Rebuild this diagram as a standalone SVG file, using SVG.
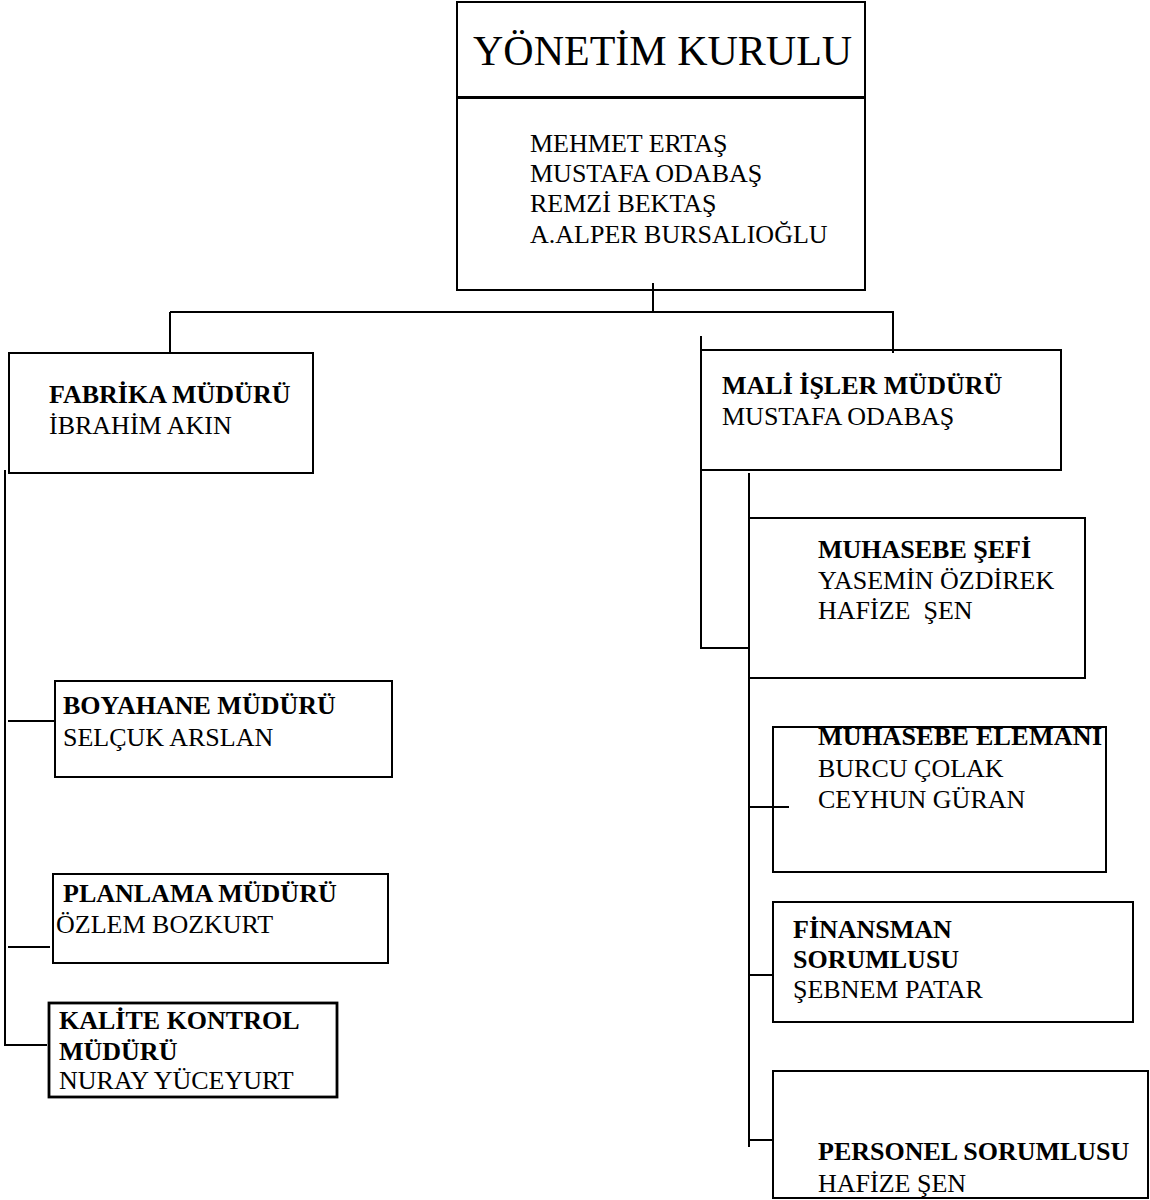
<svg xmlns="http://www.w3.org/2000/svg" width="1150" height="1200" viewBox="0 0 1150 1200">
<style>
  .box { fill: none; stroke: #000; stroke-width: 2; }
  .thick { stroke-width: 2.8; }
  .ln { fill: none; stroke: #000; stroke-width: 2; }
  text { font-family: "Liberation Serif", "Times New Roman", serif; font-size: 26px; fill: #000; }
  .b { font-weight: bold; }
  .title { font-size: 42px; }
</style>
<rect width="1150" height="1200" fill="#fff"/>
<g id="connectors">
  <path class="ln" d="M653,283 V312 M170,312 H893 V353 M170,312 V353"/>
  <path class="ln" d="M701,336 V648 H749"/>
  <path class="ln" d="M749,473 V1147"/>
  <path class="ln" d="M749,807 H789 M749,975 H773 M749,1140 H773"/>
  <path class="ln" d="M5,470 V1045 H47"/>
  <path class="ln" d="M8,721 H55 M8,947 H50"/>
</g>
<g id="yonetim-kurulu">
  <rect class="box" x="457" y="2" width="408" height="288"/>
  <line x1="457" y1="97.5" x2="865" y2="97.5" stroke="#000" stroke-width="3"/>
  <text class="title" x="473" y="65">YÖNETİM KURULU</text>
  <text x="530" y="152">MEHMET ERTAŞ</text>
  <text x="530" y="182">MUSTAFA ODABAŞ</text>
  <text x="530" y="212">REMZİ BEKTAŞ</text>
  <text x="530" y="243">A.ALPER BURSALIOĞLU</text>
</g>
<g id="fabrika-muduru">
  <rect class="box" x="9" y="353" width="304" height="120"/>
  <text class="b" x="49" y="403">FABRİKA MÜDÜRÜ</text>
  <text x="49" y="434">İBRAHİM AKIN</text>
</g>
<g id="mali-isler-muduru">
  <rect class="box" x="701" y="350" width="360" height="120"/>
  <text class="b" x="722" y="394">MALİ İŞLER MÜDÜRÜ</text>
  <text x="722" y="425">MUSTAFA ODABAŞ</text>
</g>
<g id="boyahane-muduru">
  <rect class="box" x="55" y="681" width="337" height="96"/>
  <text class="b" x="63" y="714">BOYAHANE MÜDÜRÜ</text>
  <text x="63" y="746">SELÇUK ARSLAN</text>
</g>
<g id="planlama-muduru">
  <rect class="box" x="53" y="874" width="335" height="89"/>
  <text class="b" x="63" y="902">PLANLAMA MÜDÜRÜ</text>
  <text x="56" y="933">ÖZLEM BOZKURT</text>
</g>
<g id="kalite-kontrol-muduru">
  <rect class="box thick" x="49" y="1003" width="288" height="94"/>
  <text class="b" x="59" y="1029">KALİTE KONTROL</text>
  <text class="b" x="59" y="1060">MÜDÜRÜ</text>
  <text x="59" y="1089">NURAY YÜCEYURT</text>
</g>
<g id="muhasebe-sefi">
  <rect class="box" x="749" y="518" width="336" height="160"/>
  <text class="b" x="818" y="558">MUHASEBE ŞEFİ</text>
  <text x="818" y="589">YASEMİN ÖZDİREK</text>
  <text x="818" y="619" xml:space="preserve">HAFİZE  ŞEN</text>
</g>
<g id="muhasebe-elemani">
  <text class="b" x="818" y="745" textLength="284">MUHASEBE ELEMANI</text>
  <rect x="770" y="720" width="340" height="8" fill="#fff"/>
  <rect class="box" x="773" y="727" width="333" height="145"/>
  <text x="818" y="777">BURCU ÇOLAK</text>
  <text x="818" y="808">CEYHUN GÜRAN</text>
</g>
<g id="finansman-sorumlusu">
  <rect class="box" x="773" y="902" width="360" height="120"/>
  <text class="b" x="793" y="938">FİNANSMAN</text>
  <text class="b" x="793" y="968">SORUMLUSU</text>
  <text x="793" y="998">ŞEBNEM PATAR</text>
</g>
<g id="personel-sorumlusu">
  <rect class="box" x="773" y="1071" width="375" height="127"/>
  <text class="b" x="818" y="1160">PERSONEL SORUMLUSU</text>
  <text x="818" y="1192">HAFİZE ŞEN</text>
</g>
</svg>
